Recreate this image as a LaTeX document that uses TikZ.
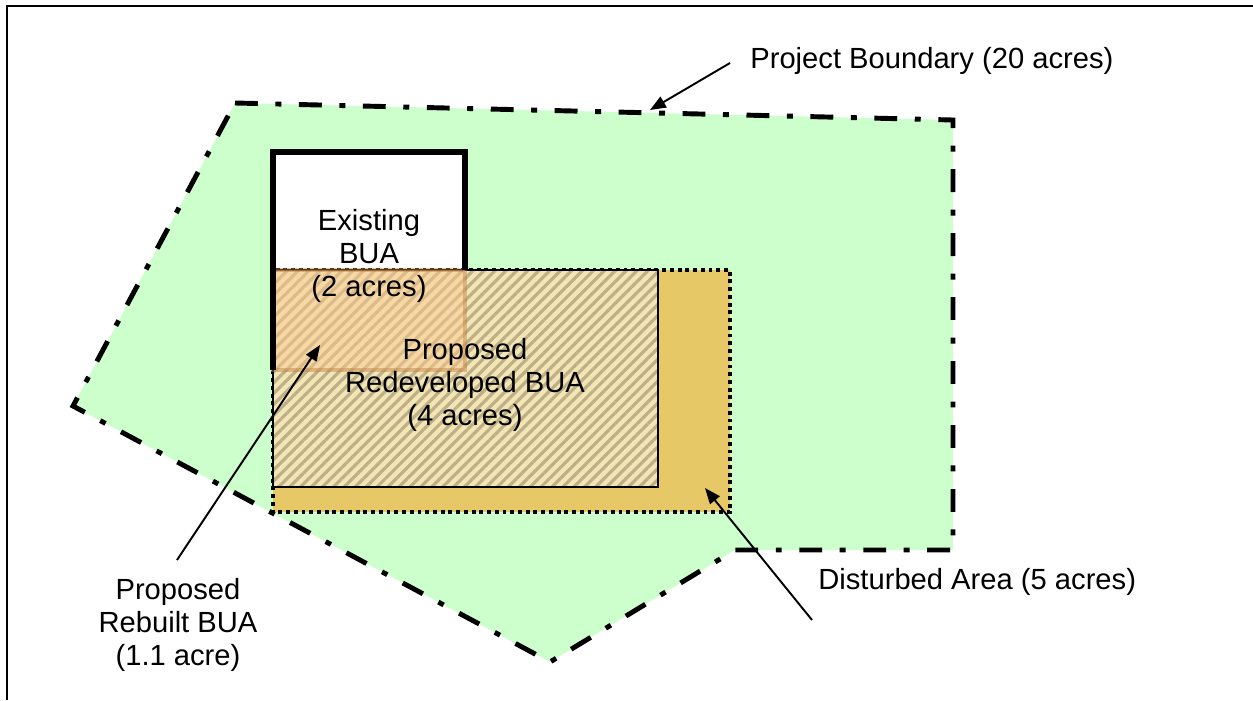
\documentclass[tikz,border=0pt]{standalone}
\usepackage{fontspec}
\setmainfont{Liberation Sans}
\usetikzlibrary{arrows.meta,patterns.meta,positioning}
\definecolor{sitegreen}{HTML}{CCFFCC}
\definecolor{disturbgold}{HTML}{E6C966}
\definecolor{redevpale}{HTML}{F2E6B4}
\definecolor{hatchbrown}{HTML}{BFAF88}
\definecolor{rebuiltorange}{HTML}{FFC890}

\begin{document}
\begin{tikzpicture}[x=0.02cm, y=-0.02cm, font=\fontsize{16.6}{18.7}\selectfont,
  boundary/.style={line width=2.8pt, dash pattern=on 13pt off 10pt on 3.4pt off 10pt},
  areatext/.style={align=center, inner sep=0pt},
  pointer/.style={line width=1.1pt, -{Triangle[length=9pt,width=7pt]}}]
  \useasboundingbox (0,0) rectangle (1253,700);
  \draw[line width=1.7pt] (7,700) -- (7,6) -- (1253,6);

  % project site
  \fill[sitegreen] (235,103) -- (953,120) -- (953,550) -- (735,550) -- (550,662) -- (73,406) -- cycle;
  \draw[boundary] (235,103) -- (953,120) -- (953,550) -- (735,550) -- (550,662) -- (73,406) -- cycle;

  % areas
  \fill[white] (273,152) rectangle (465,270);
  \draw[fill=disturbgold, line width=2pt, dash pattern=on 2.2pt off 2.2pt] (273,270) rectangle (730,512);
  \fill[redevpale] (273,270) rectangle (658,487);
  \fill[pattern={Lines[angle=45,distance=4.4pt,line width=1.8pt]}, pattern color=hatchbrown] (273,270) rectangle (658,487);
  \draw[line width=0.9pt] (273,270) rectangle (658,487);
  \draw[fill=rebuiltorange, draw=brown, line width=2pt, opacity=.45] (273,270) rectangle (465,370);
  \draw[line width=3.4pt, line join=miter] (273,370) -- (273,152) -- (465,152) -- (465,270);

  \node[areatext] (existing) at (369,256) {Existing\\BUA\\(2 acres)};
  \node[areatext] (redev) at (465,385) {Proposed\\Redeveloped BUA\\(4 acres)};
  \node[areatext, anchor=west] (project) at (750,61) {Project Boundary (20 acres)};
  \node[areatext] (rebuilt) at (178,625) {Proposed\\Rebuilt BUA\\(1.1 acre)};
  \node[areatext, anchor=west] (disturbed) at (818,582) {Disturbed Area (5 acres)};

  \coordinate (projecttail) at (730,63);
  \coordinate (projecttip) at (650,110);
  \coordinate (rebuilttail) at (177,560);
  \coordinate (rebuilttip) at (320,345);
  \coordinate (disturbedtail) at (812,620);
  \coordinate (disturbedtip) at (705,488);
  \draw[pointer] (projecttail) -- (projecttip);
  \draw[pointer] (rebuilttail) -- (rebuilttip);
  \draw[pointer] (disturbedtail) -- (disturbedtip);
\end{tikzpicture}
\end{document}
